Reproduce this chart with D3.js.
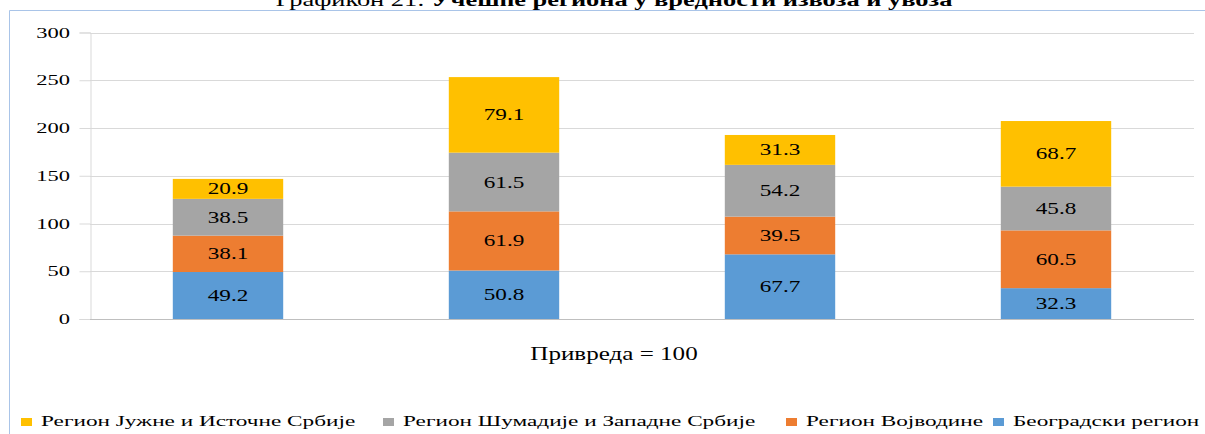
<!DOCTYPE html>
<html>
<head>
<meta charset="utf-8">
<script src="https://cdn.jsdelivr.net/npm/d3@7"></script>
<style>
  body { margin: 0; background: #fff; }
  svg { display: block; }
  svg text { font-family: 'Liberation Serif', serif; fill: #000; }
</style>
</head>
<body>
<div id="chart"></div>
<script>
const WIDTH = 1205;
const HEIGHT = 434;

// data
const categories = ['c1', 'c2', 'c3', 'c4'];
const seriesNames = [
  'Београдски регион',
  'Регион Војводине',
  'Регион Шумадије и Западне Србије',
  'Регион Јужне и Источне Србије'
];
const beograd = [49.2, 50.8, 67.7, 32.3];
const vojvodina = [38.1, 61.9, 39.5, 60.5];
const sumadija = [38.5, 61.5, 54.2, 45.8];
const jug = [20.9, 79.1, 31.3, 68.7];
const yTicks = [0, 50, 100, 150, 200, 250, 300];
const colours = ['#5B9BD5', '#ED7D31', '#A5A5A5', '#FFC000'];
const axisTitle = 'Привреда = 100';
const legendOrder = [3, 2, 1, 0];

const svg = d3.select('#chart').append('svg')
  .attr('width', WIDTH)
  .attr('height', HEIGHT)
  .attr('font-family', 'Liberation Serif, serif');

// the source picture is stretched sideways, so text is too
const stretched = (sel, x, y, sx) =>
  sel.attr('transform', `translate(${x},${y}) scale(${sx},1)`);

// title, cut at the top like in the source
const title = stretched(svg.append('text'), 614, 6, 1.39)
  .attr('text-anchor', 'middle')
  .style('font-size', '19px');
title.append('tspan').text('Графикон 21: ');
title.append('tspan').style('font-weight', 'bold')
  .text('Учешће региона у вредности извоза и увоза');

// chart frame
svg.append('path')
  .attr('d', `M9.5,${HEIGHT} V10.5 H${WIDTH}`)
  .attr('fill', 'none')
  .attr('stroke', '#A9C4E8')
  .attr('stroke-width', 1);

const x = d3.scaleBand()
  .domain(categories)
  .range([90, 1194])
  .paddingInner(0.6)
  .paddingOuter(0.3);

const y = d3.scaleLinear().domain([0, 300]).range([319, 32.5]);

// gridlines
svg.append('g')
  .selectAll('line')
  .data(yTicks.slice(1))
  .join('line')
  .attr('x1', 90).attr('x2', 1194)
  .attr('y1', (d) => Math.round(y(d)) + 0.5)
  .attr('y2', (d) => Math.round(y(d)) + 0.5)
  .attr('stroke', '#D9D9D9');

// y axis
const yAxis = svg.append('g')
  .attr('transform', 'translate(90.5,0)')
  .call(d3.axisLeft(y).tickValues(yTicks).tickSize(11).tickFormat(d3.format('d')));
yAxis.select('.domain').attr('stroke', '#D9D9D9');
yAxis.selectAll('.tick line').attr('stroke', '#D9D9D9');
yAxis.selectAll('.tick text').remove();

svg.append('g')
  .selectAll('text')
  .data(yTicks)
  .join('text')
  .each(function (d) {
    stretched(d3.select(this), 70, y(d) + 5, 1.5);
  })
  .attr('text-anchor', 'end')
  .style('font-size', '15px')
  .text((d) => d);

// stacked bars
const rows = categories.map((c, i) => ({
  cat: c,
  0: beograd[i],
  1: vojvodina[i],
  2: sumadija[i],
  3: jug[i]
}));
const stacked = d3.stack().keys([0, 1, 2, 3])(rows);

const layers = svg.append('g')
  .selectAll('g')
  .data(stacked)
  .join('g')
  .attr('fill', (d, i) => colours[i]);

layers.selectAll('rect')
  .data((d) => d)
  .join('rect')
  .attr('x', (d) => x(d.data.cat))
  .attr('width', x.bandwidth())
  .attr('y', (d) => y(d[1]))
  .attr('height', (d) => y(d[0]) - y(d[1]));

// x axis line
svg.append('line')
  .attr('x1', 90).attr('x2', 1194)
  .attr('y1', 319.5).attr('y2', 319.5)
  .attr('stroke', '#BFBFBF');

// value labels
layers.selectAll('text')
  .data((d) => d)
  .join('text')
  .each(function (d) {
    stretched(d3.select(this), x(d.data.cat) + x.bandwidth() / 2, (y(d[0]) + y(d[1])) / 2 + 5.5, 1.45);
  })
  .attr('text-anchor', 'middle')
  .style('font-size', '16px')
  .text((d) => (d[1] - d[0]).toFixed(1));

// category axis title
stretched(svg.append('text'), 614, 360, 1.32)
  .attr('text-anchor', 'middle')
  .style('font-size', '19px')
  .text(axisTitle);

// legend
const legendX = [21, 383, 786, 993];
const legend = svg.append('g')
  .selectAll('g')
  .data(legendOrder)
  .join('g')
  .attr('transform', (d, i) => `translate(${legendX[i]},0)`);

legend.append('rect')
  .attr('x', 0).attr('y', 418)
  .attr('width', 11).attr('height', 8)
  .attr('fill', (d) => colours[d]);

legend.append('text')
  .each(function () {
    stretched(d3.select(this), 20, 426, 1.55);
  })
  .style('font-size', '15px')
  .text((d) => seriesNames[d]);
</script>
</body>
</html>
